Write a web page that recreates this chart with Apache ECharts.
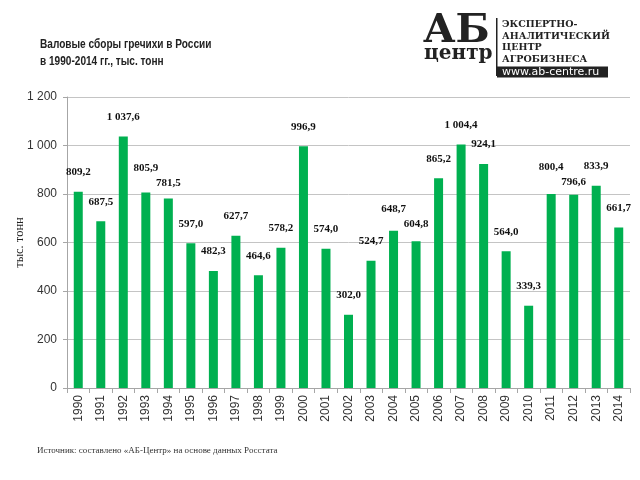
<!DOCTYPE html>
<html>
<head>
<meta charset="utf-8">
<script src="https://cdn.jsdelivr.net/npm/echarts@6/dist/echarts.min.js"></script>
<style>html,body{margin:0;padding:0;background:#fff}#c{width:640px;height:480px}</style>
</head>
<body>
<div id="c"></div>
<script>
const years = ['1990','1991','1992','1993','1994','1995','1996','1997','1998','1999','2000','2001','2002','2003','2004','2005','2006','2007','2008','2009','2010','2011','2012','2013','2014'];
const harvest = [809.2,687.5,1037.6,805.9,781.5,597.0,482.3,627.7,464.6,578.2,996.9,574.0,302.0,524.7,648.7,604.8,865.2,1004.4,924.1,564.0,339.3,800.4,796.6,833.9,661.7];
const yTicks = [0,200,400,600,800,1000,1200];

function fmt(v, dec) {
  let s = dec ? v.toFixed(1) : String(Math.round(v));
  let parts = s.split('.');
  parts[0] = parts[0].replace(/\B(?=(\d{3})+(?!\d))/g, ' ');
  return parts.join(',');
}

// spread neighbouring value labels vertically when they would collide
const plotH = 480 - 97 - 92;
const pxPerUnit = plotH / (yTicks[yTicks.length - 1] - yTicks[0]);
const base = harvest.map(v => v * pxPerUnit);
const lab = base.slice();
const minGap = 15;
for (let it = 0; it < 30; it++) {
  for (let i = 0; i < lab.length - 1; i++) {
    const d = lab[i] - lab[i + 1];
    if (Math.abs(d) < minGap) {
      const push = (minGap - Math.abs(d)) / 2;
      if (d >= 0) { lab[i] += push; lab[i + 1] -= push; }
      else { lab[i] -= push; lab[i + 1] += push; }
    }
  }
}

const chart = echarts.init(document.getElementById('c'));
chart.setOption({
  animation: false,
  backgroundColor: '#fff',
  grid: {left: 67, right: 10, top: 97, bottom: 92, containLabel: false, outerBoundsMode: 'none'},
  xAxis: {
    type: 'category',
    data: years,
    axisLine: {lineStyle: {color: '#a6a6a6'}},
    axisTick: {show: true, length: 5, lineStyle: {color: '#a6a6a6'}},
    axisLabel: {rotate: 90, color: '#333', fontFamily: 'Liberation Sans', fontSize: 12, margin: 7}
  },
  yAxis: {
    type: 'value',
    min: yTicks[0], max: yTicks[yTicks.length - 1], interval: yTicks[1] - yTicks[0],
    name: 'тыс. тонн',
    nameLocation: 'middle',
    nameGap: 41,
    nameMoveOverlap: false,
    nameTextStyle: {fontFamily: 'Liberation Serif', fontSize: 12.5, color: '#222'},
    axisLine: {show: true, lineStyle: {color: '#a6a6a6'}},
    axisTick: {show: true, length: 4, lineStyle: {color: '#a6a6a6'}},
    splitLine: {lineStyle: {color: '#c4c4c4'}},
    axisLabel: {color: '#333', fontFamily: 'Liberation Sans', fontSize: 12, margin: 10,
      formatter: v => fmt(v, false)}
  },
  series: [{
    type: 'bar',
    data: harvest,
    barWidth: 9,
    itemStyle: {color: '#00b050'},
    labelLayout: p => ({dy: -(lab[p.dataIndex] - base[p.dataIndex])}),
    label: {
      show: true, position: 'top', distance: 14,
      fontFamily: 'Liberation Serif', fontWeight: 'bold', fontSize: 11, color: '#111',
      formatter: p => fmt(p.value, true)
    }
  }],
  graphic: [
    {type: 'text', x: 40, y: 36, scaleX: 0.84, style: {x: 0, y: 0, text: 'Валовые сборы гречихи в России\nв 1990-2014 гг., тыс. тонн', font: 'bold 12px "Liberation Sans"', fill: '#222', lineHeight: 17}},
    {type: 'text', left: 423, top: 12, style: {text: 'АБ', font: 'bold 40px "DejaVu Serif"', fill: '#222'}},
    {type: 'text', left: 424, top: 44, style: {text: 'центр', font: 'bold 20px "DejaVu Serif"', fill: '#222'}},
    {type: 'rect', shape: {x: 496, y: 18, width: 1.5, height: 58}, style: {fill: '#222'}},
    {type: 'text', left: 502, top: 19, style: {text: 'ЭКСПЕРТНО-\nАНАЛИТИЧЕСКИЙ\nЦЕНТР\nАГРОБИЗНЕСА', font: 'bold 9.5px "DejaVu Serif"', fill: '#222', lineHeight: 11.5}},
    {type: 'rect', shape: {x: 497, y: 66.5, width: 111, height: 11}, style: {fill: '#222'}},
    {type: 'text', style: {x: 502, y: 72, text: 'www.ab-centre.ru', font: '11px "DejaVu Sans"', fill: '#fff', verticalAlign: 'middle', align: 'left'}},
    {type: 'text', left: 37, top: 446, style: {text: 'Источник: составлено «АБ-Центр» на основе данных Росстата', font: '9px "Liberation Serif"', fill: '#333'}}
  ]
});
</script>
</body>
</html>
